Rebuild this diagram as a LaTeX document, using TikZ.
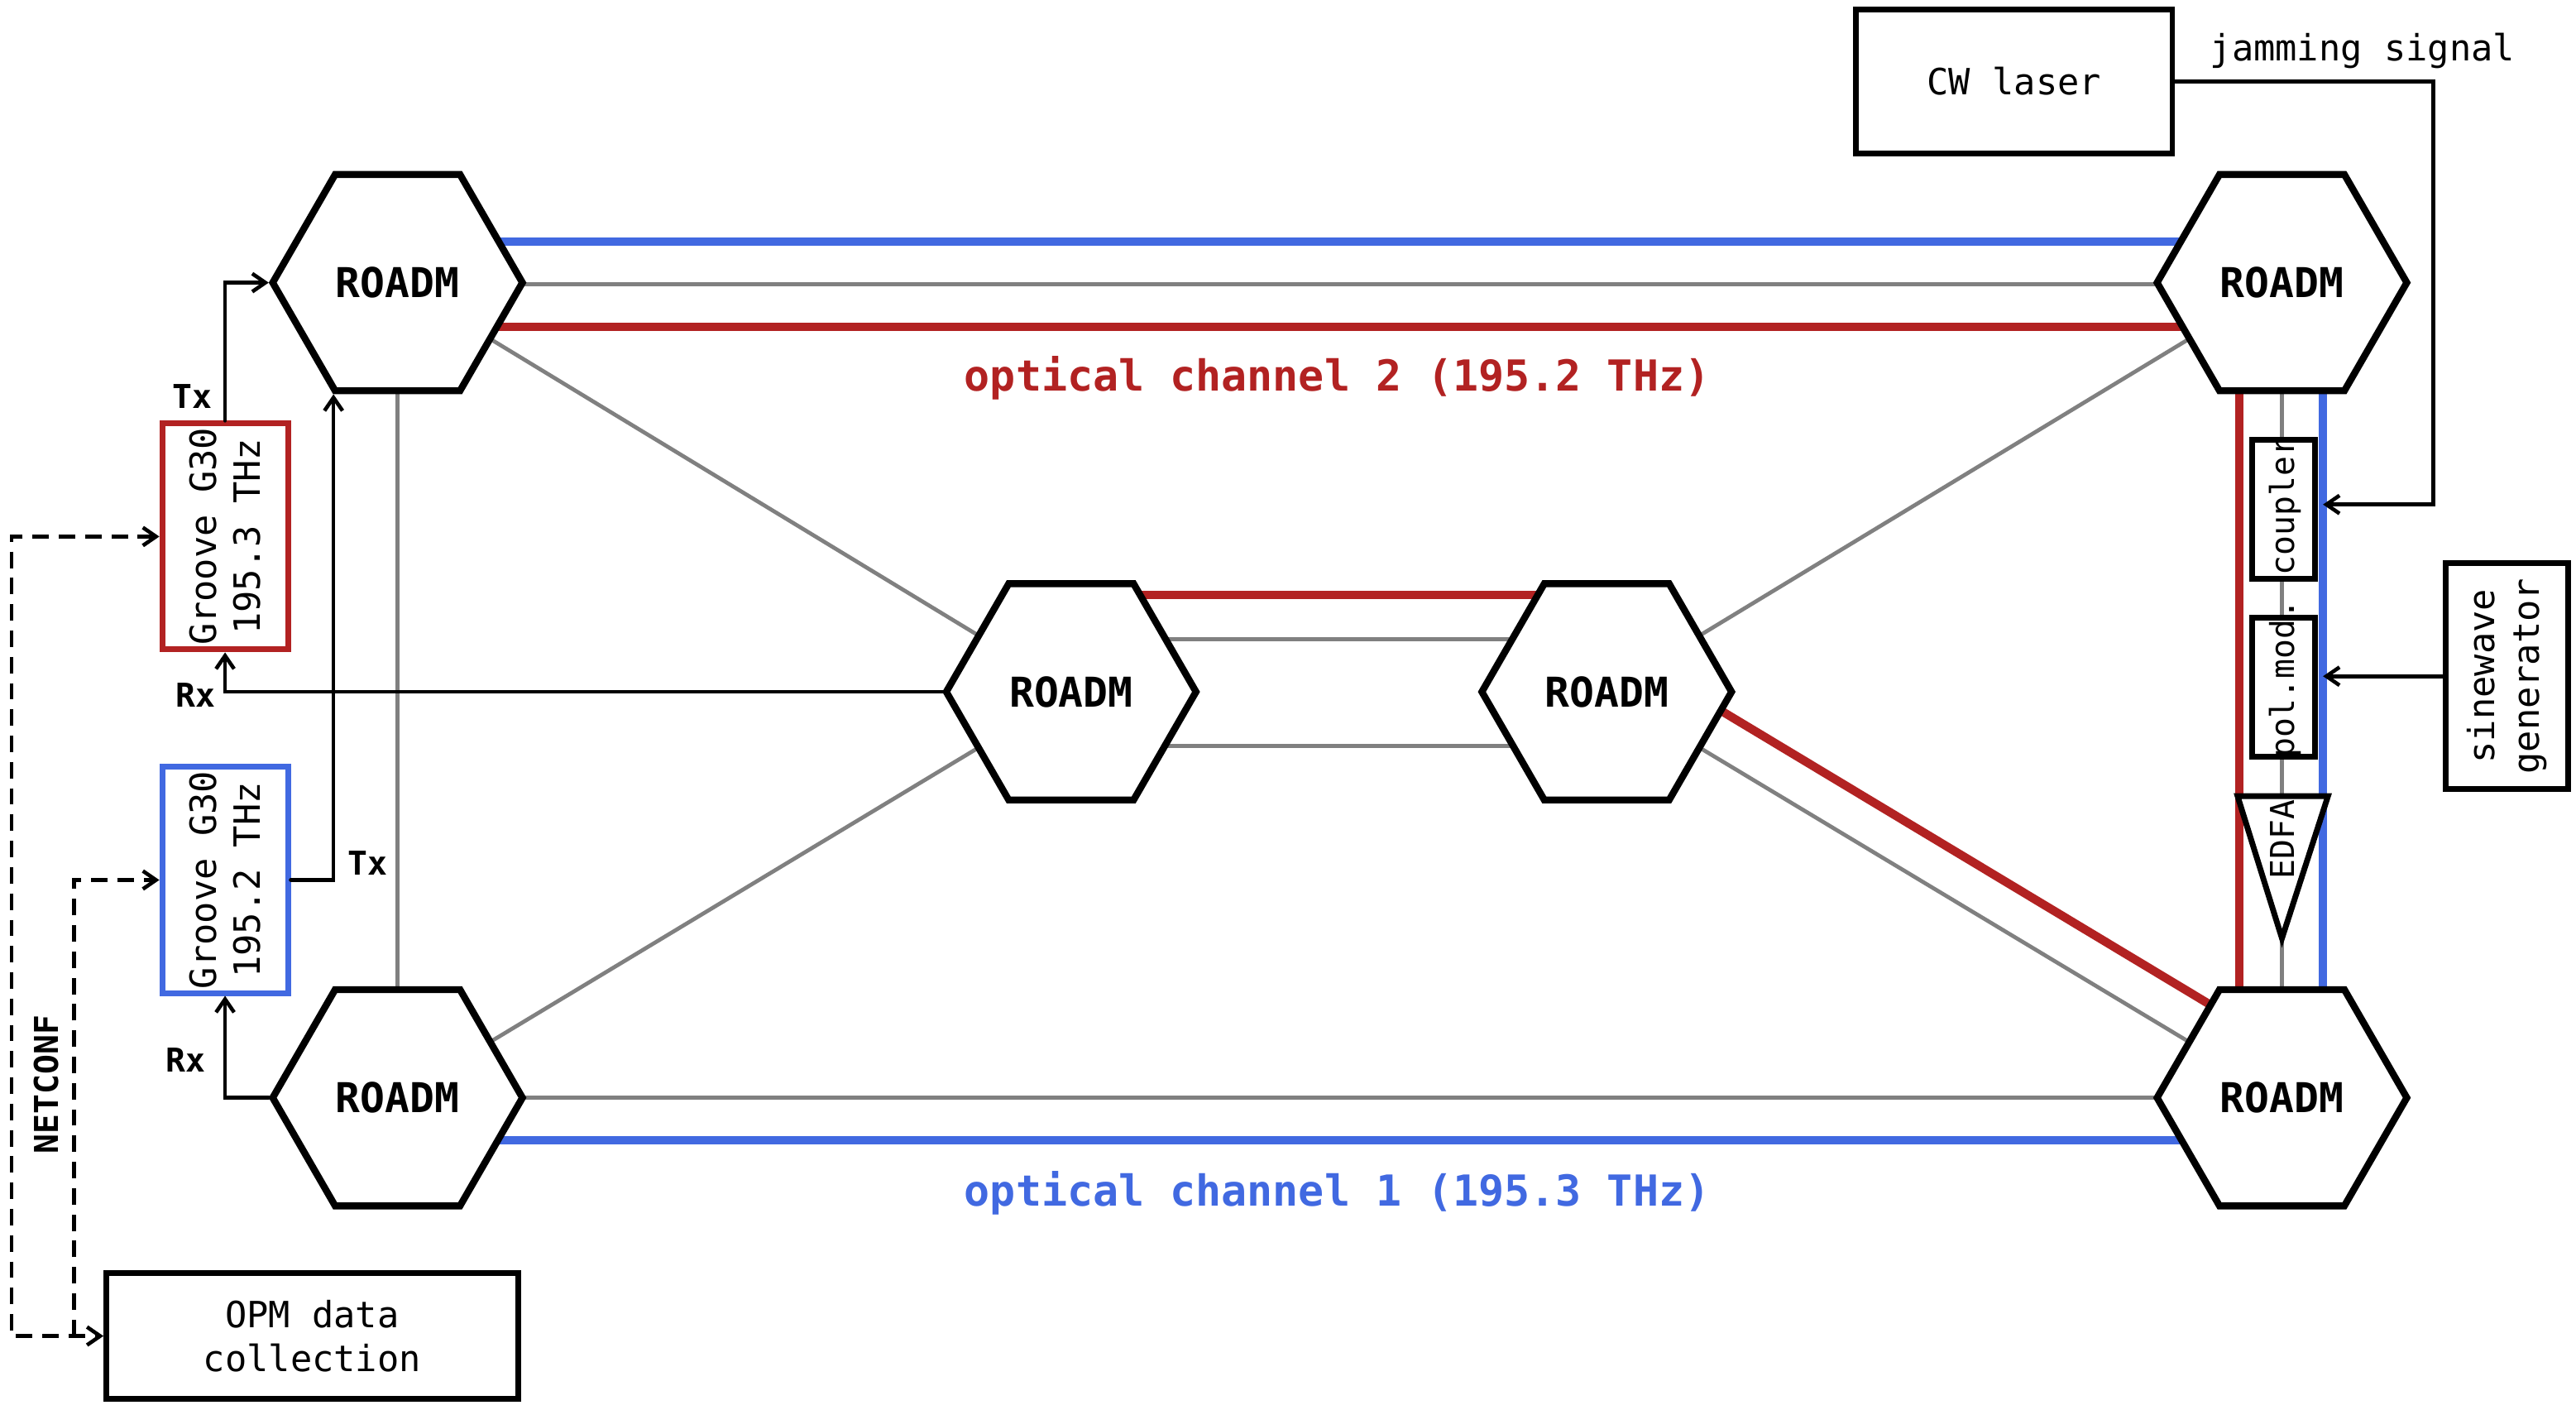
\documentclass[tikz,border=0pt]{standalone}
\usepackage{fontspec}
\setmainfont{DejaVu Sans Mono}
\usetikzlibrary{shapes.geometric,arrows.meta,calc}
\definecolor{fred}{RGB}{178,34,34}
\definecolor{fblue}{RGB}{65,105,225}
\definecolor{fgray}{RGB}{128,128,128}
\pgfdeclarelayer{bg}
\pgfsetlayers{bg,main}
\newcommand\fsz[2]{\fontsize{#1}{#2}\selectfont}
\begin{document}
\begin{tikzpicture}[x=1pt,y=-1pt,
  hexnode/.style={regular polygon, regular polygon sides=6, draw, line width=4.2pt, fill=white,
    minimum size=152pt, inner sep=0pt, font=\fsz{25}{30}\bfseries},
  fibR/.style={draw=fred, line width=5.2pt},
  fibB/.style={draw=fblue, line width=5.2pt},
  fibG/.style={draw=fgray, line width=2.4pt},
  tip/.tip={Straight Barb[length=8pt,width=11pt]},
  conn/.style={line width=2.3pt, line cap=round, -tip},
  netc/.style={line width=2.3pt, dash pattern=on 10pt off 6pt},
  box/.style={draw, line width=3.5pt, fill=white, inner sep=0pt},
  lbl/.style={font=\fsz{20}{24}\bfseries},
  txt/.style={font=\fsz{22}{27}, align=center},
  stxt/.style={font=\fsz{20}{24}, rotate=90},
]
\useasboundingbox (0,0) rectangle (1568,858);

% ROADM nodes
\node[hexnode] (TL) at (242,172) {ROADM};
\node[hexnode] (TR) at (1389,172) {ROADM};
\node[hexnode] (BL) at (242,668) {ROADM};
\node[hexnode] (BR) at (1389,668) {ROADM};
\node[hexnode] (ML) at (652,421) {ROADM};
\node[hexnode] (MR) at (978,421) {ROADM};

% transceivers
\node[box, draw=fred, minimum width=76.5pt, minimum height=137.5pt] (gR) at (137,326.5) {};
\node[txt, rotate=90] (gRt) at (gR) {Groove G30\\195.3 THz};
\node[box, draw=fblue, minimum width=76.5pt, minimum height=137.5pt] (gB) at (137,535.5) {};
\node[txt, rotate=90] (gBt) at (gB) {Groove G30\\195.2 THz};

% OPM
\node[box, txt, minimum width=250.5pt, minimum height=76.5pt] (OPM) at (190,813) {OPM data\\collection};

% CW laser
\node[box, txt, minimum width=192.5pt, minimum height=87.5pt] (CW) at (1226,49.5) {CW laser};
\node[txt] (jam) at (1438,31) {jamming signal};

% coupler, pol.mod., EDFA
\node[box, minimum width=38.5pt, minimum height=84.5pt] (coupler) at (1390,310) {};
\node[stxt] (couplert) at (1391,308) {coupler};
\node[box, minimum width=38.5pt, minimum height=84.5pt] (polmod) at (1390,418) {};
\node[stxt] (polmodt) at (1391,413) {pol.mod.};
\draw[line width=3.5pt, fill=white] (1362,484.5) -- (1417,484.5) -- (1389,571) -- cycle;
\node[stxt] (edfa) at (1389,511) {EDFA};

% sinewave generator
\node[box, minimum width=74.5pt, minimum height=137.5pt] (sine) at (1526,411.5) {};
\node[txt, rotate=90] (sinet) at (sine) {sinewave\\generator};

% labels
\node[font=\fsz{26}{31}\bfseries, text=fred] (ch2) at (814,230) {optical channel 2 (195.2 THz)};
\node[font=\fsz{26}{31}\bfseries, text=fblue] (ch1) at (814,726) {optical channel 1 (195.3 THz)};
\node[lbl] (txR) at (117,241) {Tx};
\node[lbl] (rxR) at (119,423) {Rx};
\node[lbl] (txB) at (224,525) {Tx};
\node[lbl] (rxB) at (113,645) {Rx};
\node[lbl, rotate=90] (nc) at (28,660) {NETCONF};

% fibres
\begin{pgfonlayer}{bg}
\draw[fibB] ($(TL)+(0,-25)$) -- ($(TR)+(0,-25)$);
\draw[fibG] ($(TL)+(0,1)$) -- ($(TR)+(0,1)$);
\draw[fibR] ($(TL)+(0,27)$) -- ($(TR)+(0,27)$);
\draw[fibG] (BL.center) -- (BR.center);
\draw[fibB] ($(BL)+(0,26)$) -- ($(BR)+(0,26)$);
\draw[fibG] (TL.center) -- (BL.center);
\draw[fibR] ($(TR)+(-26,0)$) -- ($(BR)+(-26,0)$);
\draw[fibG] (TR.center) -- (BR.center);
\draw[fibB] ($(TR)+(25,0)$) -- ($(BR)+(25,0)$);
\draw[fibG] (TL.center) -- (ML.center);
\draw[fibG] (BL.center) -- (ML.center);
\draw[fibG] (TR.center) -- (MR.center);
\draw[fibG] (MR.center) -- (BR.center);
\draw[fibR] ($(MR)+(13.4,-22.3)$) -- ($(BR)+(13.4,-22.3)$);
\draw[fibR] ($(ML)+(0,-59)$) -- ($(MR)+(0,-59)$);
\draw[fibG] ($(ML)+(0,-32)$) -- ($(MR)+(0,-32)$);
\draw[fibG] ($(ML)+(0,33)$) -- ($(MR)+(0,33)$);
\end{pgfonlayer}

% Tx / Rx connections
\draw[conn] (gR.north) |- (TL.west);
\draw[conn] (ML.west) -| (gR.south);
\draw[conn] (gB.east) -| ($(TL.south)+(-39,0)$);
\draw[conn] (BL.west) -| (gB.south);

% NETCONF
\draw[netc, tip-tip] (gR.west) -| (7,813) -- (OPM.west);
\draw[netc, -tip] (45,813) |- (gB.west);

% jamming and sinewave
\draw[conn] (CW.east) -| ($(coupler.east)+(70,-3)$) -- ($(coupler.east)+(3,-3)$);
\draw[conn] (sine.west) -- ($(sine.west -| polmod.east)+(3,0)$);
\end{tikzpicture}
\end{document}
